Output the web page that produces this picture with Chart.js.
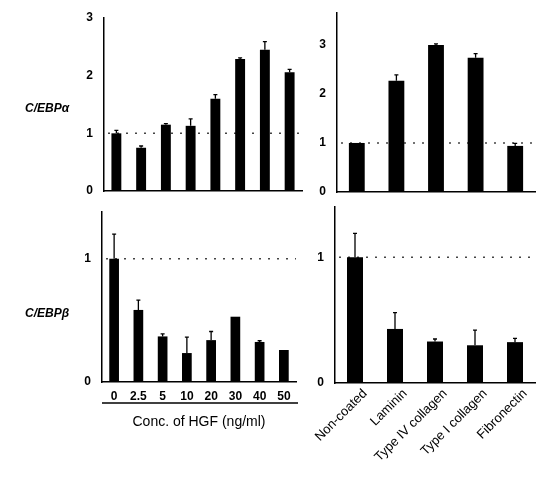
<!DOCTYPE html>
<html>
<head>
<meta charset="utf-8">
<script src="https://cdn.jsdelivr.net/npm/chart.js@4.4.1/dist/chart.umd.min.js"></script>
<style>
  body { margin: 0; background: #fff; }
  #wrap { position: relative; width: 537px; height: 481px; overflow: hidden; }
  canvas { position: absolute; }
  .row { position: absolute; font: italic bold 12px "Liberation Sans", Arial, sans-serif; color: #000; line-height: 16px; }
</style>
</head>
<body>
<div id="wrap">
  <canvas id="tl" width="310" height="200" style="left:0;top:0"></canvas>
  <canvas id="tr" width="237" height="200" style="left:300px;top:0"></canvas>
  <canvas id="bl" width="310" height="240" style="left:0;top:200px"></canvas>
  <canvas id="br" width="237" height="281" style="left:300px;top:200px"></canvas>
  <div class="row" style="left:25px;top:100px">C/EBPα</div>
  <div class="row" style="left:25px;top:305px">C/EBPβ</div>
</div>
<script>
// HGF dose series
var hgfLabels = ['0', '2.5', '5', '10', '20', '30', '40', '50'];
var alphaHgf = [1.0, 0.75, 1.15, 1.13, 1.6, 2.29, 2.45, 2.06];
var alphaHgfErr = [0.05, 0.03, 0.02, 0.12, 0.07, 0.02, 0.14, 0.05];
var betaHgf = [1.0, 0.585, 0.37, 0.235, 0.34, 0.53, 0.325, 0.26];
var betaHgfErr = [0.2, 0.08, 0.02, 0.13, 0.07, 0, 0.01, 0];

// matrix coating series
var matrixLabels = ['Non-coated', 'Laminin', 'Type IV collagen', 'Type I collagen', 'Fibronectin'];
var alphaMatrix = [1.0, 2.27, 3.0, 2.74, 0.94];
var alphaMatrixErr = [0, 0.12, 0.02, 0.08, 0.05];
var betaMatrix = [1.0, 0.43, 0.33, 0.3, 0.325];
var betaMatrixErr = [0.19, 0.13, 0.02, 0.12, 0.03];

var FONT = 'Liberation Sans';

// dotted line at 1 (control level)
var refLine = {
  id: 'refLine',
  beforeDatasetsDraw: function (chart) {
    var a = chart.chartArea, y = chart.scales.y.getPixelForValue(1), ctx = chart.ctx;
    ctx.save();
    ctx.strokeStyle = '#444';
    ctx.lineWidth = 1.5;
    ctx.setLineDash([2, 7]);
    ctx.beginPath();
    ctx.moveTo(a.left + 4, y);
    ctx.lineTo(a.right, y);
    ctx.stroke();
    ctx.restore();
  }
};

var errorBars = {
  id: 'errorBars',
  afterDatasetsDraw: function (chart) {
    var ds = chart.data.datasets[0], meta = chart.getDatasetMeta(0), ys = chart.scales.y, ctx = chart.ctx;
    ctx.save();
    ctx.strokeStyle = '#000';
    ctx.lineWidth = 1.3;
    meta.data.forEach(function (bar, i) {
      var e = ds.errors[i];
      if (!e) return;
      var y0 = ys.getPixelForValue(ds.data[i]), y1 = ys.getPixelForValue(ds.data[i] + e);
      ctx.beginPath();
      ctx.moveTo(bar.x, y0);
      ctx.lineTo(bar.x, y1);
      ctx.moveTo(bar.x - 2, y1);
      ctx.lineTo(bar.x + 2, y1);
      ctx.stroke();
    });
    ctx.restore();
  }
};

// line under the dose labels
var underline = {
  id: 'underline',
  afterDraw: function (chart) {
    if (!chart.options.underline) return;
    var x = chart.scales.x, ctx = chart.ctx;
    ctx.save();
    ctx.strokeStyle = '#000';
    ctx.lineWidth = 1.5;
    ctx.beginPath();
    ctx.moveTo(x.left, x.top + 21);
    ctx.lineTo(x.right + 2, x.top + 21);
    ctx.stroke();
    ctx.restore();
  }
};

function panel(id, labels, values, errs, cfg) {
  return new Chart(document.getElementById(id), {
    type: 'bar',
    data: {
      labels: labels,
      datasets: [{
        data: values,
        errors: errs,
        backgroundColor: '#000',
        barPercentage: 0.4,
        categoryPercentage: 1
      }]
    },
    options: {
      responsive: false,
      animation: false,
      underline: cfg.underline || false,
      layout: { padding: cfg.padding },
      plugins: { legend: { display: false }, tooltip: { enabled: false } },
      scales: {
        x: {
          grid: { display: false, drawTicks: false },
          border: { color: '#000', width: 1.5 },
          ticks: cfg.xTicks,
          title: cfg.xTitle || { display: false },
          afterFit: function (s) { s.height = cfg.xHeight; s.paddingLeft = 0; s.paddingRight = 0; }
        },
        y: {
          min: 0,
          max: cfg.yMax,
          grid: { display: false, drawTicks: false },
          border: { color: '#000', width: 1.5 },
          ticks: {
            stepSize: 1, includeBounds: false, padding: 11, color: '#000',
            font: { family: FONT, size: 12, weight: 'bold' }
          },
          afterFit: function (s) { s.width = cfg.yWidth; s.paddingTop = 0; s.paddingBottom = 0; }
        }
      }
    },
    plugins: [refLine, errorBars, underline]
  });
}

panel('tl', hgfLabels, alphaHgf, alphaHgfErr, {
  padding: { top: 18, right: 8, left: 0, bottom: 0 },
  yWidth: 104, xHeight: 9, yMax: 3,
  xTicks: { display: false }
});

panel('tr', matrixLabels, alphaMatrix, alphaMatrixErr, {
  padding: { top: 13, right: 2, left: 0, bottom: 0 },
  yWidth: 37, xHeight: 8, yMax: 3.65,
  xTicks: { display: false }
});

panel('bl', hgfLabels, betaHgf, betaHgfErr, {
  padding: { top: 12, right: 14, left: 0, bottom: 0 },
  yWidth: 102, xHeight: 58, yMax: 1.38,
  underline: true,
  xTicks: {
    padding: 7, maxRotation: 0, autoSkip: false, color: '#000',
    font: { family: FONT, size: 12, weight: 'bold' }
  },
  xTitle: {
    display: true, text: 'Conc. of HGF (ng/ml)', color: '#000',
    font: { family: FONT, size: 14 }, padding: { top: 0, bottom: 9 }
  }
});

panel('br', matrixLabels, betaMatrix, betaMatrixErr, {
  padding: { top: 7, right: 2, left: 0, bottom: 0 },
  yWidth: 35, xHeight: 98, yMax: 1.4,
  xTicks: {
    padding: 3, labelOffset: 10, minRotation: 45, maxRotation: 45, autoSkip: false, color: '#000',
    font: { family: FONT, size: 13 }
  }
});
</script>
</body>
</html>
